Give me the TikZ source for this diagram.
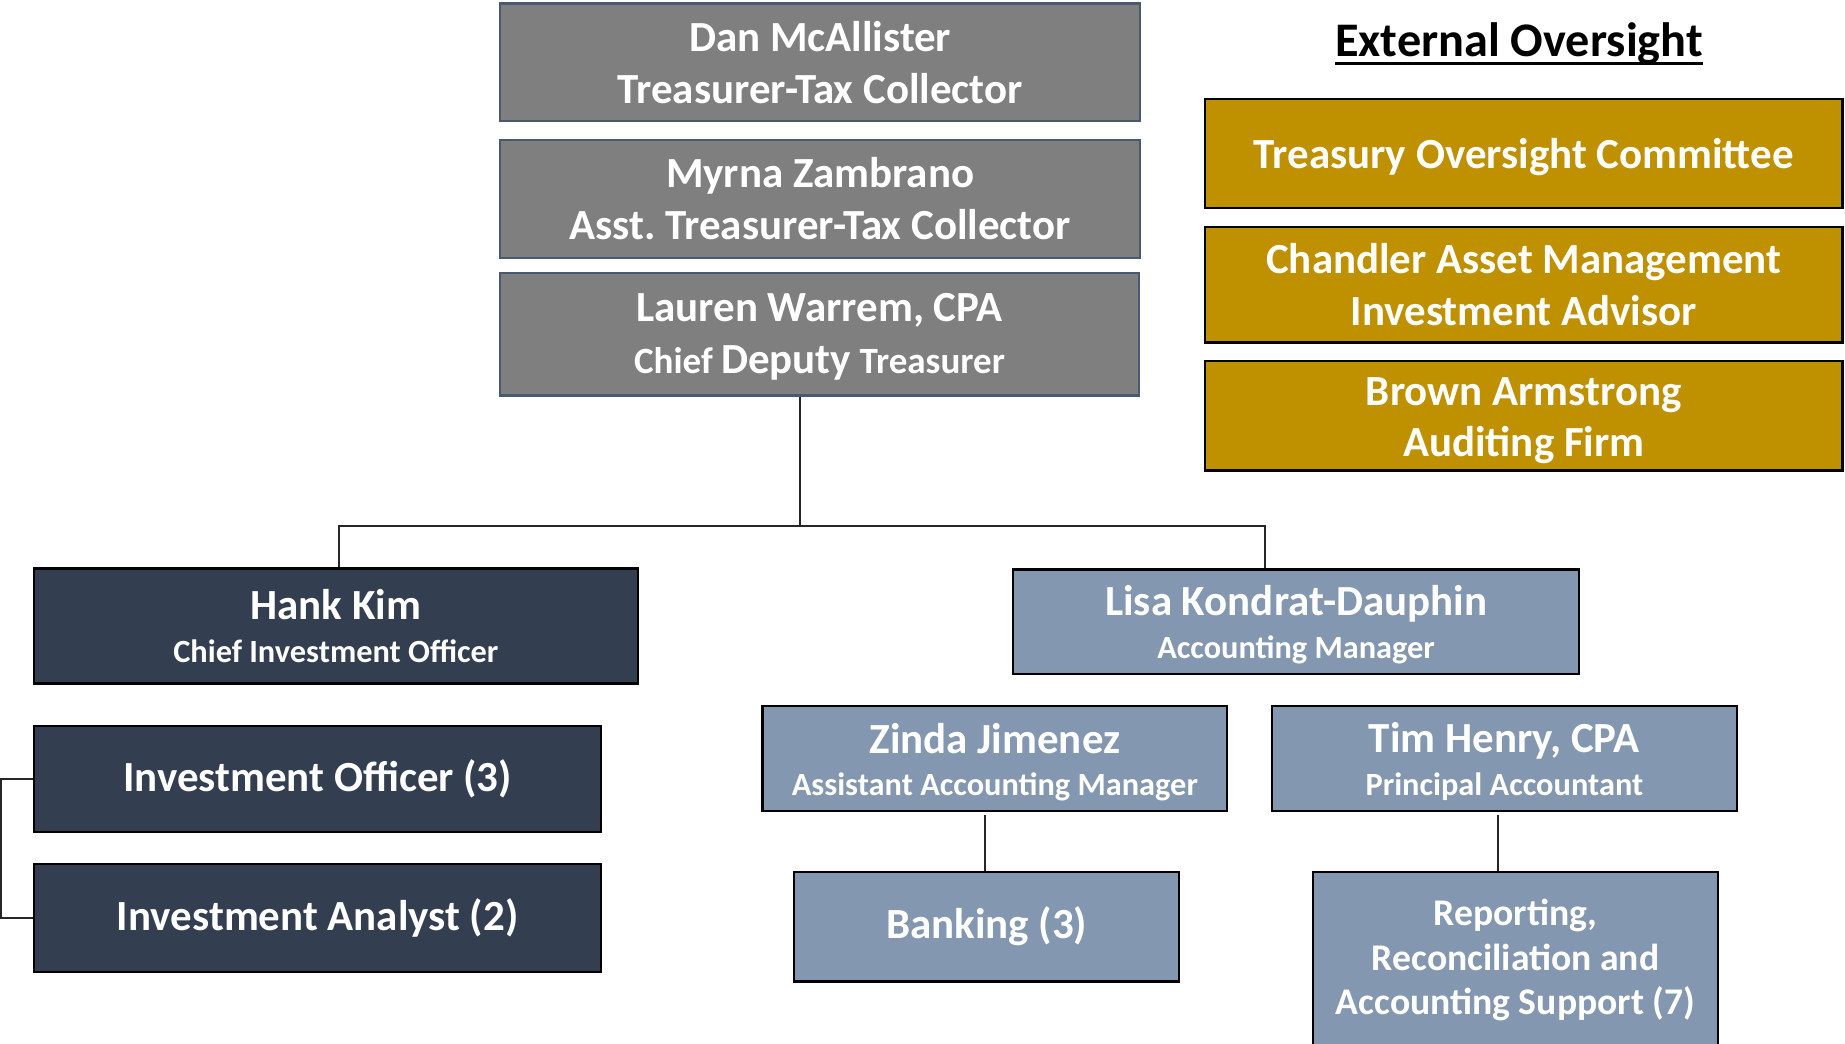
\documentclass[tikz,border=0pt]{standalone}
\usepackage{fontspec}
\setmainfont{Carlito}
\frenchspacing
\definecolor{topgray}{HTML}{7F7F7F}
\definecolor{topedge}{HTML}{4A5870}
\definecolor{gold}{HTML}{BF9000}
\definecolor{navy}{HTML}{333F50}
\definecolor{steel}{HTML}{8497B0}
\newcommand{\mainsz}{\fontsize{36.5}{44}\selectfont}
\newcommand{\subsz}{\fontsize{27.5}{38}\selectfont}
\newcommand{\midsz}{\fontsize{31.5}{44}\selectfont}
% add extra height above a first line (moves the text block down by half of it)
\newcommand{\dn}[2]{\raisebox{0pt}[\dimexpr\height+#1\relax][\depth]{#2}}
\begin{document}
\frenchspacing
\begin{tikzpicture}[x=1pt,y=1pt,
  box/.style={draw, line width=2pt, anchor=north west, align=center, inner sep=0pt,
    text=white, font=\bfseries\mainsz},
  grayb/.style={box, fill=topgray, draw=topedge},
  goldb/.style={box, fill=gold, draw=black},
  navyb/.style={box, fill=navy, draw=black},
  steelb/.style={box, fill=steel, draw=black},
  link/.style={line width=2pt, draw=black!85}]
\useasboundingbox (0,0) rectangle (1568,-887);
\clip (0,0) rectangle (1568,-887);

% top chain
\node[grayb, minimum width=544, minimum height=100] (dan) at (424,-2)
  {Dan McAllister\\Treasurer-Tax Collector};
\node[grayb, minimum width=544, minimum height=100] (myrna) at (424,-118)
  {Myrna Zambrano\\Asst. Treasurer-Tax Collector};
\node[grayb, minimum width=543, minimum height=104] (lauren) at (424,-231)
  {\dn{5pt}{Lauren Warrem, CPA}\\{\midsz Chief }Deputy{\midsz{} Treasurer}};

% external oversight
\node[font=\bfseries\fontsize{41}{48}\selectfont, anchor=base, inner sep=0pt] (ext) at (1291,-48) {External Oversight};
\draw[line width=2.5pt] ([yshift=-6pt]ext.base west) -- ([yshift=-6pt]ext.base east);
\node[goldb, minimum width=542, minimum height=93] (toc) at (1023,-83)
  {\dn{6pt}{Treasury Oversight Committee}};
\node[goldb, minimum width=542, minimum height=98] (cam) at (1023,-192)
  {Chandler Asset Management\\Investment Advisor};
\node[goldb, minimum width=542, minimum height=93] (baf) at (1023,-306)
  {\dn{8pt}{Brown Armstrong}\\Auditing Firm};

% investment side
\node[navyb, minimum width=513, minimum height=98] (hank) at (28,-482)
  {Hank Kim\\[-8pt]{\subsz Chief Investment Officer}};
\node[navyb, minimum width=482, minimum height=90] (io) at (28,-616)
  {Investment Officer (3)};
\node[navyb, minimum width=482, minimum height=92] (ia) at (28,-733)
  {Investment Analyst (2)};

% accounting side
\node[steelb, minimum width=481, minimum height=89] (lisa) at (860,-483)
  {\dn{5pt}{Lisa Kondrat-Dauphin}\\[-8pt]{\subsz Accounting Manager}};
\node[steelb, minimum width=395, minimum height=89] (zinda) at (647,-599)
  {\dn{7pt}{Zinda Jimenez}\\[-8pt]{\subsz Assistant Accounting Manager}};
\node[steelb, minimum width=395, minimum height=89] (tim) at (1080,-599)
  {\dn{5pt}{Tim Henry, CPA}\\[-8pt]{\subsz Principal Accountant}};
\node[steelb, minimum width=327, minimum height=93] (bank) at (674,-740)
  {Banking (3)};
\node[steelb, minimum width=344, minimum height=150, font=\bfseries\fontsize{32}{38}\selectfont] (rep) at (1115,-740)
  {Reporting,\\Reconciliation and\\Accounting Support (7)};

% connectors
\coordinate (bus) at (680,-447);
\coordinate (hb) at (288,-447);
\coordinate (lb) at (1075,-447);
\draw[link] (bus |- lauren.south) -- (bus);
\draw[link] (hb |- hank.north) -- (hb) -- (lb) -- (lb |- lisa.north);
\draw[link] (io.west) -- ++(-27,0) |- (ia.west);
\coordinate (zb) at (837,-693);
\draw[link] (zb) -- (zb |- bank.north);
\coordinate (tb) at (1273,-693);
\draw[link] (tb) -- (tb |- rep.north);
\end{tikzpicture}
\end{document}
